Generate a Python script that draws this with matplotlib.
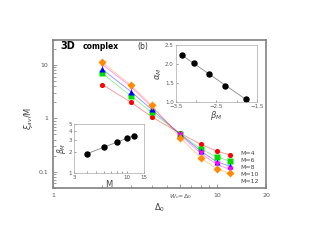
import numpy as np
import matplotlib.pyplot as plt

# main panel data
delta0 = [2, 3, 4, 6, 8, 10, 12]
M_vals = [4, 6, 8, 10, 12]
xi = {
    4:  [4.3, 2.0, 1.07, 0.52, 0.325, 0.244, 0.205],
    6:  [7.0, 2.62, 1.30, 0.51, 0.265, 0.19, 0.158],
    8:  [8.3, 3.16, 1.47, 0.50, 0.243, 0.153, 0.127],
    10: [10.3, 3.9, 1.65, 0.48, 0.22, 0.137, 0.11],
    12: [11.2, 4.16, 1.78, 0.43, 0.182, 0.113, 0.093],
}
colors = {4: 'red', 6: '#00dd00', 8: 'blue', 10: 'magenta', 12: 'darkorange'}
markers = {4: 'o', 6: 's', 8: '^', 10: 'v', 12: 'D'}

# inset data
beta_M = [-3.35, -3.06, -2.68, -2.28, -1.76]
alpha_M = [2.24, 2.02, 1.75, 1.43, 1.08]
inset_M = [4, 6, 8, 10, 12]
inset_beta = [1.86, 2.35, 2.75, 3.14, 3.43]

fig = plt.figure(figsize=(3.19, 2.46), dpi=100)
ax = fig.add_axes([0.166, 0.237, 0.668, 0.602])
for M in M_vals:
    ax.plot(delta0, xi[M], '-', color=colors[M], lw=0.6, alpha=0.45)
    ax.plot(delta0, xi[M], markers[M], color=colors[M], ms=3.7, mec='none')
ax.set_xscale('log')
ax.set_yscale('log')
ax.set_xlim(1, 20)
ax.set_ylim(0.05, 30)
ax.set_xticks([1, 6, 10, 20])
ax.set_xticklabels(['1', r'$W_c\!=\!\Delta_0$', '10', '20'])
ax.set_yticks([0.1, 1, 10])
ax.set_yticklabels(['0.1', '1', '10'])
ax.tick_params(which='both', direction='in', labelsize=4.5, colors='#555555', length=2, width=0.4)
ax.tick_params(which='major', length=3)
for s in ax.spines.values():
    s.set_color('#808080')
    s.set_linewidth(1.2)
ax.set_xlabel(r'$\Delta_0$', fontsize=6, color='#444444', labelpad=1)
ax.set_ylabel(r'$\xi_{av}$/M', fontsize=6, color='#444444')
ax.yaxis.set_label_coords(-0.085, 0.47)
ax.xaxis.set_label_coords(0.5, -0.09)

ax.text(0.033, 0.955, '3D', transform=ax.transAxes, fontsize=7, fontweight='bold', va='center')
ax.text(0.14, 0.955, 'complex', transform=ax.transAxes, fontsize=5.5, fontweight='bold', va='center')
ax.text(0.394, 0.955, '(b)', transform=ax.transAxes, fontsize=5.5, va='center', color='#333333')

for i, M in enumerate(M_vals):
    ax.text(0.878, 0.228 - i * 0.046, 'M=%d' % M, transform=ax.transAxes,
            fontsize=4.5, color='#444444', va='center')

# inset 1: alpha_M vs beta_M
ax1 = fig.add_axes([0.551, 0.584, 0.254, 0.233])
p = np.polyfit(beta_M, alpha_M, 1)
bx = np.array([beta_M[0], beta_M[-1]])
ax1.plot(bx, np.polyval(p, bx), '-', color='#888888', lw=0.6)
ax1.plot(beta_M, alpha_M, 'o', color='black', ms=3.6)
ax1.set_xlim(-3.5, -1.5)
ax1.set_ylim(1.0, 2.5)
ax1.set_xticks([-3.5, -2.5, -1.5])
ax1.set_xticks([-3.0, -2.0], minor=True)
ax1.set_yticks([1.0, 1.5, 2.0, 2.5])
ax1.tick_params(which='both', direction='in', labelsize=4, colors='#555555', length=1.5, width=0.4, pad=1.5)
for s in ax1.spines.values():
    s.set_color('#aaaaaa')
    s.set_linewidth(0.5)
ax1.set_xlabel(r'$\beta_M$', fontsize=6, color='#444444', labelpad=0)
ax1.set_ylabel(r'$\alpha_M$', fontsize=6, color='#444444', labelpad=1)

# inset 2: beta vs M
ax2 = fig.add_axes([0.232, 0.298, 0.220, 0.197])
q = np.polyfit(np.log(inset_M), np.log(inset_beta), 1)
mx = np.array([inset_M[0], inset_M[-1]])
ax2.plot(mx, np.exp(np.polyval(q, np.log(mx))), '-', color='#888888', lw=0.6)
ax2.plot(inset_M, inset_beta, 'o', color='black', ms=3.6)
ax2.set_xscale('log')
ax2.set_yscale('log')
ax2.set_xlim(3, 15)
ax2.set_ylim(1, 5)
ax2.set_xticks([3, 10, 15])
ax2.set_xticklabels(['3', '10', '15'])
ax2.set_xticks([4, 5, 6, 7, 8, 9], minor=True)
ax2.set_xticklabels([], minor=True)
ax2.set_yticks([1, 2, 3, 4, 5])
ax2.set_yticklabels(['1', '2', '3', '4', '5'])
ax2.set_yticklabels([], minor=True)
ax2.tick_params(which='both', direction='in', labelsize=4, colors='#555555', length=1.5, width=0.4, pad=1.5)
for s in ax2.spines.values():
    s.set_color('#aaaaaa')
    s.set_linewidth(0.5)
ax2.set_xlabel('M', fontsize=6, color='#444444', labelpad=0)
ax2.set_ylabel(r'$\beta_M$', fontsize=5.5, color='#444444', labelpad=0.5)

fig.savefig('out.png', dpi=100)
